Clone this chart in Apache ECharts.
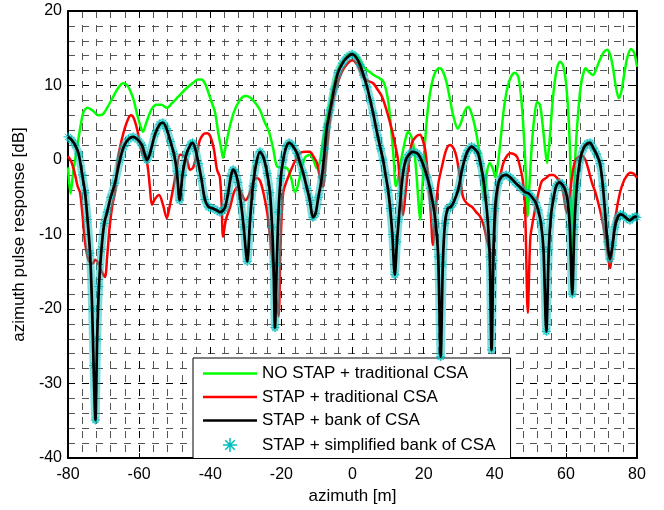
<!DOCTYPE html>
<html>
<head>
<meta charset="utf-8">
<script src="https://cdn.jsdelivr.net/npm/echarts@6/dist/echarts.min.js"></script>
<style>html,body{margin:0;padding:0;background:#fff}#c{width:664px;height:510px}</style>
</head>
<body>
<div id="c"></div>
<script>
// ---- tick labels / axis ranges ----
const xTicks = [-80, -60, -40, -20, 0, 20, 40, 60, 80];
const yTicks = [-40, -30, -20, -10, 0, 10, 20];

// ---- series names ----
const seriesNames = ['NO STAP + traditional CSA', 'STAP + traditional CSA', 'STAP + bank of CSA', 'STAP + simplified bank of CSA'];

// ---- NO STAP + traditional CSA (green): [azimuth m, dB] ----
const greenPts = [[-80,-1],[-79.3,-4.5],[-78.5,-1.5],[-77.5,1.5],[-76.5,4.5],[-75.6,6.5],[-74.5,7],[-73,6.6],[-71.5,6.0],[-70.3,6.1],[-69,7],[-67.5,8.3],[-66,9.6],[-64.5,10.3],[-63.5,10.1],[-62.5,9.3],[-61.5,8],[-60.5,6],[-59.6,4.5],[-58.9,3.8],[-58,5],[-56.5,6.8],[-55,7.4],[-53.7,7.4],[-52.2,7.0],[-50.8,7.6],[-49,8.5],[-47,9.5],[-45,10.3],[-43.5,10.8],[-42.5,10.8],[-41.5,10.3],[-40.5,9],[-39.5,7.6],[-38.7,6.5],[-37.8,3.8],[-36.9,1.5],[-36.4,0.3],[-35.6,2],[-34.5,4.5],[-33.3,6.5],[-32,7.8],[-30.8,8.5],[-29.8,8.6],[-28.5,8.3],[-27.2,7.6],[-26,6.7],[-24.8,5.2],[-23.5,3.8],[-22.3,1.5],[-21.2,-0.9],[-20,-1],[-18.4,-1.1],[-17.2,-2.5],[-16.2,-4.3],[-15.4,-3.5],[-14.6,-1.8],[-13.4,0.3],[-12,0.7],[-11,0],[-10,-1.1],[-9.3,-0.5],[-8.3,2.5],[-7.2,5.5],[-6,8.5],[-4.8,11],[-3.5,12.7],[-2,13.7],[-0.5,14.3],[0.8,14.2],[2,13.5],[3,12.6],[4,12.1],[4.9,11.8],[6.3,11.3],[7.5,11],[8.6,10.6],[9.5,9.3],[10.3,7],[11,3.5],[11.6,0],[12.2,-3.5],[12.8,-2.5],[13.5,-0.5],[14.3,1.5],[15,3],[15.6,3.8],[16.5,3.2],[17.3,1.5],[18,-2],[18.6,-6],[19,-8],[19.6,-4],[20.2,1],[21,6],[21.8,9],[22.8,11.2],[23.7,12.1],[24.6,12.3],[25.5,11.8],[26.4,10.5],[27.4,8.2],[28.4,5.8],[29.6,4.2],[30.5,5],[31.5,6.5],[32.5,7.1],[33.3,6.5],[34.3,4.8],[35.2,2.5],[36,0],[36.6,-3],[37.1,-5.4],[37.7,-2],[38.6,-0.4],[39.5,-1.2],[40.2,-2.3],[40.9,-0.5],[41.7,3],[42.6,7],[43.6,9.8],[44.6,11.2],[45.7,11.7],[46.6,11.2],[47.4,8.5],[48.1,4],[48.7,-1.5],[49.2,-7.6],[49.8,-3],[50.5,2.5],[51.2,6],[51.9,7.8],[52.7,7.4],[53.4,5],[54.1,1.8],[54.7,-0.4],[55.4,2.5],[56.2,7.5],[57.1,11.3],[57.8,12.8],[58.4,13.2],[59.2,12.7],[60,10.5],[60.6,7],[61.1,2],[61.5,-6],[61.8,-18],[62.2,-7],[62.7,1],[63.4,6],[64.2,10],[65,11.8],[65.6,12.3],[66.5,11.8],[67.6,11.4],[68.6,12.3],[69.6,13.5],[70.7,14.5],[71.6,14.8],[72.4,14.2],[73.2,12.5],[74,10],[74.9,8.3],[75.6,9.2],[76.4,11.5],[77.3,13.8],[78.3,14.9],[79.2,14.4],[80,12.5]];

// ---- STAP + traditional CSA (red) ----
const redPts = [[-80,0.5],[-79,-0.3],[-78,-2],[-77.3,-3.5],[-76.6,-4.4],[-76,-7],[-75.2,-11.1],[-74.5,-13],[-73.8,-13.8],[-73,-13.9],[-72.4,-13.4],[-71.5,-13.8],[-70.5,-15],[-69.6,-15.7],[-69,-13],[-68.3,-9],[-67.5,-6],[-66.8,-4.4],[-65.9,0.4],[-65,2.5],[-64,4.3],[-63,5.6],[-62.3,6.0],[-61.5,5.6],[-60.5,4],[-59.7,2],[-58.9,0.6],[-57.8,-0.3],[-57,-3.5],[-56.4,-6],[-55.5,-5.2],[-54.4,-4.7],[-53.3,-6],[-52.2,-7.8],[-51.4,-6.2],[-50.5,-4],[-49.5,-1.5],[-48.5,0.7],[-47.5,0.6],[-46.5,0],[-45.7,-1.3],[-44.8,-1],[-43.8,0.8],[-42.9,2.7],[-41.8,3.5],[-40.9,3.6],[-40,3.2],[-39,1.5],[-38.1,-1.3],[-37.3,-2.3],[-36.8,-6],[-36.4,-10.3],[-35.6,-8],[-34.4,-6.3],[-33.3,-4.3],[-32.2,-3.6],[-31.2,-4.5],[-30.2,-5.4],[-29.2,-4.8],[-28,-3],[-26.9,-2.4],[-26,-2.8],[-25,-4.5],[-24,-7],[-23.2,-10.3],[-22.4,-14],[-21.6,-18],[-20.8,-21],[-20.2,-11],[-19.5,-4.4],[-18.5,-2.8],[-17.6,-1.7],[-16.3,-0.3],[-14.8,0.9],[-13.4,1.1],[-12,1.1],[-11,0.5],[-10,-0.4],[-9.1,-2.5],[-8.3,-3.6],[-7.5,0],[-6.3,5.5],[-5.2,8.5],[-4,10.6],[-2.8,12],[-1.5,12.9],[-0.1,13.4],[1.3,12.8],[3,11.1],[4.4,10.6],[5.8,10.3],[7,9.5],[8.3,8.5],[9.7,6.5],[11.1,4],[12,2],[12.8,0],[13.5,-4],[14.2,-7.4],[15,-4],[15.8,-0.5],[16.7,2.3],[18,3.2],[19,3.4],[19.8,2.6],[20.5,1.2],[21.3,-2.5],[22,-7],[22.6,-11.4],[23.3,-7],[24.2,-3],[25.2,-0.8],[26.3,1.3],[27.4,2],[28.5,1.5],[29.3,0.3],[30.2,-2.3],[31.1,-5],[32.3,-5.9],[33.6,-6.3],[34.8,-7],[35.9,-7.6],[36.9,-8.8],[37.8,-10.7],[38.6,-12.2],[39.3,-13],[40,-9],[40.6,-5],[41.4,-2.5],[42.5,-0.3],[43.5,0.6],[44.3,0.9],[45.4,0.8],[46.3,0.4],[47.1,-0.9],[47.8,-2.5],[48.5,-6],[49.3,-20.5],[50,-10.5],[50.8,-8],[51.6,-6],[52.5,-4],[53.3,-2.8],[54.5,-2.4],[55.5,-2],[56.5,-2],[57.5,-2.4],[58.5,-3],[59.3,-4.5],[60.2,-7],[61,-5],[61.8,-2],[62.5,-0.3],[63.3,0.3],[64.5,0.6],[65.5,0],[66.3,-1.2],[67.3,-3],[68.4,-4.5],[69.6,-6.7],[70.6,-9],[71.6,-12],[72.4,-14.5],[73.2,-11],[74,-7.5],[75.2,-4.4],[76.3,-2.8],[77.3,-2],[78,-1.7],[79,-1.8],[80,-2.4]];

// ---- STAP + bank of CSA (black) ----
const blackPts = [[-80,3.1],[-79,2.7],[-78,2.0],[-77,0.8],[-76,-2.0],[-75.2,-4.4],[-74.5,-8],[-73.8,-12.5],[-73.2,-20],[-72.8,-27.6],[-72.3,-34.9],[-71.8,-24],[-71.3,-17],[-70.6,-12],[-69.8,-8.5],[-69,-7.0],[-68,-5],[-66.8,-3.1],[-65.4,0],[-64.3,1.8],[-63,2.8],[-61.7,3.1],[-60.5,2.8],[-59.2,2.0],[-58.3,0.6],[-57.8,0],[-57,0.8],[-55.5,3.5],[-54.2,4.8],[-53.3,5.0],[-52.3,4.2],[-51.2,2.5],[-50.2,0.8],[-49.4,-1.5],[-48.6,-5.4],[-47.8,-2],[-46.7,0.8],[-45.5,2.1],[-45,2.3],[-44.2,1.5],[-43.3,-0.5],[-42.5,-2.5],[-41.5,-5.3],[-40.5,-6.3],[-39.2,-6.5],[-38,-6.8],[-37.3,-7.0],[-36.5,-6.8],[-35.8,-6.3],[-35,-4.5],[-34.2,-2.2],[-33.6,-1.3],[-33,-1.6],[-32.2,-3],[-31.3,-6],[-30.6,-9],[-29.6,-13.6],[-28.8,-8],[-28,-3.5],[-27,-0.3],[-26,1.1],[-25,0.3],[-24,-1.8],[-23.2,-4.4],[-22.6,-9],[-22.2,-14],[-21.8,-22.5],[-21.3,-14],[-20.8,-7],[-20.2,-2.5],[-19.5,0],[-18.6,1.8],[-17.8,2.3],[-16.8,1.9],[-15.6,0.9],[-14.8,-0.3],[-13.9,-1.7],[-12.8,-3.8],[-12,-5.4],[-11.1,-7.7],[-10.4,-7.2],[-9.6,-5],[-8.6,-2.3],[-7.8,1.5],[-7.2,4.4],[-6.3,6.7],[-5.2,9.5],[-4.1,11.7],[-2.8,13.0],[-1.5,13.8],[-0.1,14.2],[1,13.8],[2.1,12.8],[3.1,11.4],[4.1,9.8],[5,8],[5.8,6.3],[6.5,4.6],[7.2,3],[7.9,1.5],[8.6,0],[9.3,-2],[10,-4],[10.6,-6.5],[11.2,-10],[11.9,-15.4],[12.5,-11],[13,-8],[13.6,-4.5],[14.3,-1.5],[15,0],[15.8,0.7],[17,1.1],[18.2,0.9],[19,0.4],[20,-0.8],[21,-2.3],[21.8,-3.8],[22.6,-5.8],[23.4,-8.5],[24.1,-13],[24.8,-26.4],[25.4,-14],[26,-8.5],[26.8,-6.5],[27.6,-6.3],[28.3,-5.8],[29.7,-4],[30.8,-1.3],[31.8,0.5],[32.5,1.3],[33.5,1.8],[34.3,1.5],[35.3,0.9],[36,-0.5],[36.7,-2.3],[37.4,-5],[38,-8],[38.6,-13],[39.1,-25.5],[39.6,-13.5],[40.1,-6.5],[41,-3.1],[42,-2.2],[43.2,-2],[44.5,-2.4],[45.7,-3],[47,-3.6],[48.5,-4.3],[49.5,-4.5],[50.5,-5],[51.5,-5.7],[52.2,-6.7],[53,-8.5],[53.7,-12],[54.5,-23],[55.2,-12],[55.8,-7.5],[56.5,-5.2],[57.3,-3.5],[58.2,-3],[59,-3.3],[59.8,-4],[60.5,-5.5],[61.1,-9],[61.8,-18],[62.4,-9],[63.1,-3.5],[64,0],[65,1.6],[66,2.2],[66.8,2.3],[67.7,1.6],[68.6,0.8],[69.6,-0.5],[70.4,-3.5],[71.1,-7.5],[71.7,-11],[72.4,-13.3],[73.1,-11.5],[73.8,-9],[74.5,-7.8],[75.3,-7.3],[76,-7.4],[77,-7.8],[78,-8.1],[78.8,-7.8],[79.5,-7.6],[80,-7.7]];

// ---- STAP + simplified bank of CSA (cyan stars): read as coinciding with the black curve ----
const cyanPts = blackPts;

const FONT = "'Liberation Sans', Arial, Helvetica, sans-serif";
const CYAN = '#00bfbf';
const STAR = 'path://M5,0L5,10M0,5L10,5M1.6,1.6L8.4,8.4M1.6,8.4L8.4,1.6';
const BAR = 'path://M0,0L54,0L54,2.6L0,2.6Z';

const chart = echarts.init(document.getElementById('c'), null, {renderer: 'canvas'});

function mainX() {
  return {
    type: 'value', min: xTicks[0], max: xTicks[xTicks.length - 1], interval: 20,
    position: 'bottom',
    name: 'azimuth [m]', nameLocation: 'middle', nameGap: 27,
    nameTextStyle: {fontFamily: FONT, fontSize: 17, color: '#000'},
    axisLine: {show: true, onZero: false, lineStyle: {color: '#000', width: 2}},
    axisTick: {show: true, inside: true, length: 5, lineStyle: {color: '#000', width: 1}},
    axisLabel: {fontFamily: FONT, fontSize: 16, color: '#000', margin: 9},
    splitLine: {show: true, lineStyle: {color: '#000', width: 1, type: [7, 7]}},
    minorTick: {show: false, splitNumber: 5},
    minorSplitLine: {show: true, lineStyle: {color: '#555', width: 1, type: [7, 7]}}
  };
}
function mainY() {
  return {
    type: 'value', min: yTicks[0], max: yTicks[yTicks.length - 1], interval: 10,
    position: 'left',
    name: 'azimuth pulse response [dB]', nameLocation: 'middle', nameGap: 37,
    nameTextStyle: {fontFamily: FONT, fontSize: 17, color: '#000'},
    axisLine: {show: true, onZero: false, lineStyle: {color: '#000', width: 2}},
    axisTick: {show: true, inside: true, length: 5, lineStyle: {color: '#000', width: 1}},
    axisLabel: {fontFamily: FONT, fontSize: 16, color: '#000', margin: 6},
    splitLine: {show: true, lineStyle: {color: '#000', width: 1, type: [7, 7]}},
    minorTick: {show: false, splitNumber: 5},
    minorSplitLine: {show: true, lineStyle: {color: '#555', width: 1, type: [7, 7]}}
  };
}

const option = {
  animation: false,
  backgroundColor: '#fff',
  grid: {left: 68, right: 27, top: 11, bottom: 52, containLabel: false},
  xAxis: [
    mainX(),
    {type: 'value', min: xTicks[0], max: xTicks[xTicks.length - 1], interval: 20, position: 'top',
     axisLine: {show: true, onZero: false, lineStyle: {color: '#000', width: 2}},
     axisTick: {show: true, inside: true, length: 5, lineStyle: {color: '#000'}},
     axisLabel: {show: false}, splitLine: {show: false}}
  ],
  yAxis: [
    mainY(),
    {type: 'value', min: yTicks[0], max: yTicks[yTicks.length - 1], interval: 10, position: 'right',
     axisLine: {show: true, onZero: false, lineStyle: {color: '#000', width: 2}},
     axisTick: {show: true, inside: true, length: 5, lineStyle: {color: '#000'}},
     axisLabel: {show: false}, splitLine: {show: false}}
  ],
  legend: {
    orient: 'vertical', left: 193, top: 358,
    padding: [7, 15, 4, 10], itemGap: 6.5, itemWidth: 54, itemHeight: 14,
    backgroundColor: '#fff', borderColor: '#000', borderWidth: 1, borderRadius: 0,
    selectedMode: false,
    textStyle: {fontFamily: FONT, fontSize: 17, color: '#000', lineHeight: 17},
    data: [
      {name: seriesNames[0], icon: BAR, itemStyle: {color: '#00ff00', borderWidth: 0}},
      {name: seriesNames[1], icon: BAR, itemStyle: {color: '#ff0000', borderWidth: 0}},
      {name: seriesNames[2], icon: BAR, itemStyle: {color: '#000000', borderWidth: 0}},
      {name: seriesNames[3], icon: STAR, itemStyle: {color: 'none', borderColor: CYAN, borderWidth: 1.5}}
    ]
  },
  series: [
    {name: seriesNames[0], type: 'line', data: greenPts, symbol: 'none', smooth: 0.3,
     lineStyle: {color: '#00ff00', width: 2.5}, itemStyle: {color: '#00ff00'}, z: 2},
    {name: seriesNames[1], type: 'line', data: redPts, symbol: 'none', smooth: 0.3,
     lineStyle: {color: '#ff0000', width: 2.5}, itemStyle: {color: '#ff0000'}, z: 3},
    {name: seriesNames[3], type: 'line', data: cyanPts, symbol: STAR, symbolSize: 9, showSymbol: true, smooth: 0.3,
     lineStyle: {color: CYAN, width: 8, opacity: 0.5},
     itemStyle: {color: 'none', borderColor: CYAN, borderWidth: 1}, z: 4},
    {name: seriesNames[2], type: 'line', data: blackPts, symbol: 'none', smooth: 0.3,
     lineStyle: {color: '#000000', width: 2.7}, itemStyle: {color: '#000000'}, z: 5}
  ]
};
chart.setOption(option);
</script>
</body>
</html>
